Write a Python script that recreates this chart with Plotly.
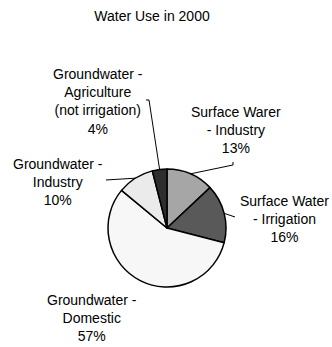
import numpy as np
import plotly.graph_objects as go

# Water use shares in 2000 (percent), in clockwise order from 12 o'clock
labels = [
    "Surface Warer<br>- Industry",
    "Surface Water<br>- Irrigation",
    "Groundwater -<br>Domestic",
    "Groundwater -<br>Industry",
    "Groundwater -<br>Agriculture<br>(not irrigation)",
]
values = [13, 16, 57, 10, 4]
colors = ["#a6a6a6", "#595959", "#f7f7f7", "#ebebeb", "#2e2e2e"]

W, H = 332, 347
CX, CY, R = 167, 228, 59  # pie centre and radius in pixels

# label block centres (pixels) and leader-line elbows (None = no leader)
label_pos = [(236, 130), (284, 219), (92, 317.5), (58, 182), (98, 101)]
elbows = [
    [(233, 162), (233, 165)],
    [(235, 217)],
    None,
    [(106, 180)],
    [(146, 100), (149, 100)],
]


def px(x):
    return x / W


def py(y):
    return 1 - y / H


FONT = dict(family="Liberation Sans, Arial, sans-serif", size=14, color="#000000")

fig = go.Figure(
    go.Pie(
        labels=labels,
        values=values,
        sort=False,
        direction="clockwise",
        rotation=0,
        marker=dict(colors=colors, line=dict(color="#000000", width=1.5)),
        textinfo="none",
        hoverinfo="label+percent",
        showlegend=False,
        domain=dict(x=[px(CX - R), px(CX + R)], y=[py(CY + R), py(CY - R)]),
    )
)

# slice mid-angles (clockwise from top) for anchoring leader lines
total = float(sum(values))
cum = np.cumsum([0] + values)
mids = (cum[:-1] + np.array(values) / 2) / total * 2 * np.pi

annotations = []
shapes = []
for lab, val, (lx, ly), elb, ang in zip(labels, values, label_pos, elbows, mids):
    pct = round(val / total * 100)
    annotations.append(
        dict(
            x=px(lx), y=py(ly), xref="paper", yref="paper",
            text=f"{lab}<br>{pct}%", showarrow=False,
            xanchor="center", yanchor="middle", align="center", font=FONT,
        )
    )
    if elb:
        ex = CX + R * np.sin(ang)
        ey = CY - R * np.cos(ang)
        pts = list(elb) + [(ex, ey)]
        path = "M " + " L ".join(f"{px(x):.5f},{py(y):.5f}" for x, y in pts)
        shapes.append(
            dict(type="path", path=path, xref="paper", yref="paper",
                 line=dict(color="#000000", width=1))
        )

fig.update_layout(
    width=W,
    height=H,
    margin=dict(l=0, r=0, t=0, b=0),
    paper_bgcolor="#ffffff",
    plot_bgcolor="#ffffff",
    title=dict(
        text="Water Use in 2000", x=px(152), y=py(16),
        xanchor="center", yanchor="middle", font=FONT,
    ),
    annotations=annotations,
    shapes=shapes,
)

fig.write_html("out.html")
